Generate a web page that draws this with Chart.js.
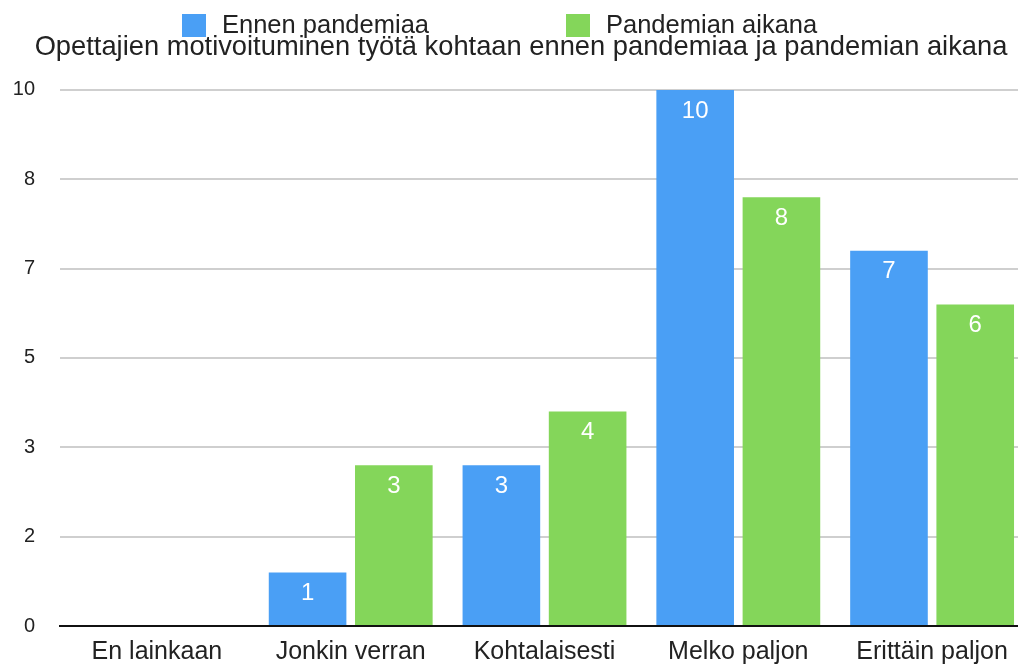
<!DOCTYPE html>
<html>
<head>
<meta charset="utf-8">
<script src="https://cdn.jsdelivr.net/npm/chart.js@4.4.1/dist/chart.umd.min.js"></script>
<style>
  html, body { margin: 0; padding: 0; background: #fff; overflow: hidden; }
  #wrap { width: 1018px; height: 664px; overflow: hidden; }
  canvas { display: block; }
</style>
</head>
<body>
<div id="wrap">
  <canvas id="motivationChart" width="1042" height="664" style="width:1042px;height:664px"></canvas>
</div>
<script>
const categories = ['En lainkaan', 'Jonkin verran', 'Kohtalaisesti', 'Melko paljon', 'Erittäin paljon'];
const seriesNames = ['Ennen pandemiaa', 'Pandemian aikana'];
const beforePandemic = [0, 1, 3, 10, 7];
const duringPandemic = [0, 3, 4, 8, 6];
const yTickLabels = ['0', '2', '3', '5', '7', '8', '10'];
const yMax = 10;
const chartTitle = 'Opettajien motivoituminen työtä kohtaan ennen pandemiaa ja pandemian aikana';

const blue = '#4a9ff5';
const green = '#84d65a';
const fontFamily = '"Liberation Sans", Arial, Helvetica, sans-serif';

Chart.defaults.font.family = fontFamily;

// white value labels just inside the top of each bar
const barValues = {
  id: 'barValues',
  afterDatasetsDraw(chart) {
    const ctx = chart.ctx;
    ctx.save();
    ctx.fillStyle = '#ffffff';
    ctx.font = '24px ' + fontFamily;
    ctx.textAlign = 'center';
    ctx.textBaseline = 'middle';
    chart.data.datasets.forEach((ds, i) => {
      chart.getDatasetMeta(i).data.forEach((bar, j) => {
        const v = ds.data[j];
        if (!v) return;
        ctx.fillText(String(v), bar.x, bar.y + 21);
      });
    });
    ctx.restore();
  }
};

// legend row above the title, items spread wide like the original
const wideLegend = {
  id: 'wideLegend',
  afterDraw(chart) {
    const ctx = chart.ctx;
    const cx = chart.width / 2;
    const starts = [cx - 339, cx + 45];
    ctx.save();
    ctx.font = '25.5px ' + fontFamily;
    ctx.textBaseline = 'middle';
    ctx.textAlign = 'left';
    chart.data.datasets.forEach((ds, i) => {
      const x = starts[i];
      ctx.fillStyle = ds.backgroundColor;
      ctx.fillRect(x, 14, 24, 23);
      ctx.fillStyle = '#222';
      ctx.fillText(ds.label, x + 40, 25.5);
    });
    ctx.restore();
  }
};

const ctx = document.getElementById('motivationChart').getContext('2d');

const motivationChart = new Chart(ctx, {
  type: 'bar',
  data: {
    labels: categories,
    datasets: [{
      label: seriesNames[0],
      data: beforePandemic,
      backgroundColor: blue,
      categoryPercentage: 0.89,
      barPercentage: 0.9,
    }, {
      label: seriesNames[1],
      data: duringPandemic,
      backgroundColor: green,
      categoryPercentage: 0.89,
      barPercentage: 0.9,
    }]
  },
  options: {
    responsive: false,
    devicePixelRatio: 1,
    animation: false,
    layout: {
      padding: { top: 31, left: 13, right: 13, bottom: 0 }
    },
    plugins: {
      legend: { display: false },
      tooltip: { enabled: false },
      title: {
        display: true,
        text: chartTitle,
        color: '#222',
        font: { size: 27.3, weight: 'normal', lineHeight: 1.2 },
        padding: { top: 0, bottom: 26.2 }
      }
    },
    scales: {
      x: {
        grid: { display: false },
        border: { display: true, color: '#111', width: 2 },
        ticks: {
          color: '#222',
          font: { size: 25 },
          padding: 3,
          maxRotation: 0,
          autoSkip: false
        },
        afterFit(axis) { axis.height = 38; }
      },
      y: {
        min: 0,
        max: yMax,
        afterBuildTicks(axis) {
          axis.ticks = yTickLabels.map((_, i) => ({ value: i * yMax / (yTickLabels.length - 1) }));
        },
        grid: {
          color: '#cfcfcf',
          lineWidth: 2,
          drawTicks: false
        },
        border: { display: false },
        ticks: {
          color: '#222',
          font: { size: 20 },
          padding: 25,
          callback: (value, index) => yTickLabels[index]
        },
        afterFit(axis) { axis.width = 47; }
      }
    }
  },
  plugins: [barValues, wideLegend]
});
</script>
</body>
</html>
